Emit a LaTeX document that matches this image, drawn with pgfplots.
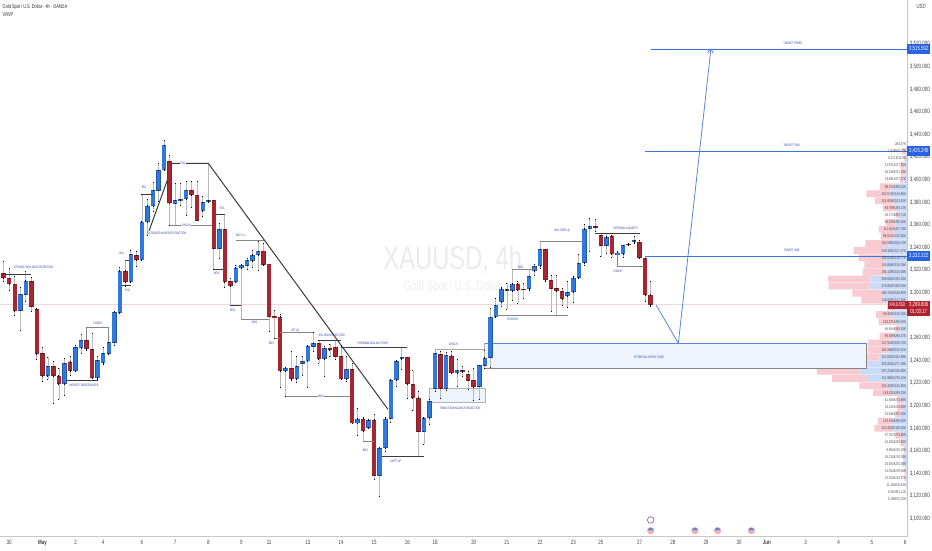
\documentclass[border=0pt]{standalone}
\usepackage{fontspec}
\setmainfont{Liberation Sans}
\usepackage{pgfplots}
\usepackage{pgfplotstable}
\pgfplotsset{compat=1.18}
\usetikzlibrary{arrows.meta}

\definecolor{upbody}{HTML}{2E78DE}
\definecolor{upedge}{HTML}{2458A8}
\definecolor{dnbody}{HTML}{A9252F}
\definecolor{dnedge}{HTML}{8A2029}
\definecolor{wick}{HTML}{B9B9B9}
\definecolor{labblue}{HTML}{2B3D9E}
\definecolor{tgtblue}{HTML}{3A72E0}
\definecolor{tagblue}{HTML}{2962E6}
\definecolor{tagred}{HTML}{B2222E}
\definecolor{pathblue}{HTML}{5A86D8}
\definecolor{zonefill}{HTML}{EEF3FC}
\definecolor{volblue}{HTML}{CBDBF7}
\definecolor{volpink}{HTML}{F7CBD1}
\definecolor{darkline}{HTML}{3A3A3A}
\definecolor{greyline}{HTML}{858585}

% x o c l h  (x = 4h bar number)
\pgfplotstableread{
x o c l h
3 3284.1 3298.5 3266.9 3304.4
4 3298.2 3310.6 3292.6 3318.6
8 3226.2 3235.1 3223.3 3242.8
11 3219.2 3237.7 3209.4 3241.9
13 3230.7 3251.6 3230.1 3253.7
14 3251.0 3258.1 3246.3 3263.4
17 3224.2 3240.4 3223.6 3243.3
18 3237.7 3246.3 3236.9 3251.6
19 3246.0 3256.0 3245.4 3264.0
20 3255.7 3282.6 3253.7 3283.2
21 3282.3 3319.5 3281.7 3322.4
23 3309.1 3333.9 3308.8 3337.2
25 3328.9 3362.8 3328.9 3387.0
26 3362.5 3377.0 3350.5 3382.6
27 3376.7 3390.8 3371.7 3397.3
28 3390.3 3408.5 3380.5 3414.5
29 3408.3 3430.7 3408.0 3435.1
31 3378.8 3382.0 3359.9 3396.7
32 3381.4 3382.9 3377.6 3396.7
33 3382.6 3390.8 3368.7 3398.2
36 3372.3 3380.2 3367.2 3384.9
37 3380.2 3381.7 3380.2 3414.5
39 3338.9 3356.0 3330.4 3361.3
42 3309.7 3322.1 3308.8 3324.5
43 3321.8 3324.5 3276.4 3325.1
44 3323.9 3328.9 3320.6 3330.4
45 3328.0 3333.6 3322.1 3337.7
46 3333.3 3336.9 3320.0 3345.7
51 3230.7 3233.6 3208.5 3233.9
53 3223.6 3235.1 3220.6 3243.4
54 3237.2 3239.5 3227.1 3243.4
55 3239.2 3252.5 3215.9 3253.7
56 3252.2 3255.1 3247.8 3264.6
58 3241.0 3250.7 3225.6 3252.8
62 3223.6 3232.1 3221.2 3243.4
64 3184.3 3188.5 3173.4 3197.6
66 3180.5 3187.3 3179.9 3187.9
68 3138.0 3162.2 3120.0 3163.1
69 3162.2 3188.5 3159.3 3189.7
70 3188.5 3222.4 3185.2 3223.3
71 3222.4 3239.5 3216.8 3240.4
72 3241.0 3242.8 3232.1 3251.6
76 3177.0 3188.8 3166.1 3189.7
77 3188.8 3204.1 3183.5 3205.5
78 3215.0 3246.3 3212.4 3249.8
80 3215.0 3244.5 3213.8 3246.9
82 3228.9 3231.5 3216.8 3241.0
86 3216.8 3235.7 3205.6 3236.0
87 3235.4 3242.5 3233.0 3249.2
88 3242.5 3278.5 3233.6 3286.1
89 3278.5 3289.1 3278.2 3295.0
90 3291.7 3303.5 3288.2 3304.7
92 3301.5 3308.0 3293.5 3320.6
95 3302.9 3314.7 3302.3 3320.6
96 3319.2 3323.6 3315.6 3325.1
97 3323.6 3338.3 3321.5 3345.7
102 3297.0 3300.3 3287.0 3309.7
103 3300.6 3313.3 3291.1 3314.7
104 3313.3 3326.2 3312.7 3334.2
105 3326.0 3356.6 3323.9 3360.5
106 3356.6 3359.0 3336.3 3365.8
109 3341.6 3349.5 3334.8 3352.5
111 3333.9 3335.4 3323.6 3336.3
112 3334.2 3341.9 3331.3 3342.2
114 3344.8 3346.3 3343.6 3349.5
}\upbars

\pgfplotstableread{
x o c l h
0 3317.4 3312.7 3309.7 3327.7
1 3313.0 3307.4 3302.3 3321.5
2 3307.7 3283.8 3280.2 3314.7
5 3310.0 3287.6 3283.2 3313.6
6 3285.2 3245.7 3241.0 3286.1
7 3246.3 3226.2 3221.2 3251.6
9 3235.1 3226.2 3202.0 3238.9
10 3226.5 3219.2 3205.6 3233.0
12 3238.9 3230.7 3227.1 3243.9
15 3258.1 3249.8 3249.2 3264.0
16 3250.1 3224.2 3224.2 3264.0
22 3319.5 3309.4 3305.9 3328.3
24 3333.0 3328.9 3323.0 3336.3
30 3416.5 3379.0 3359.9 3421.8
34 3390.8 3386.1 3375.5 3398.2
35 3386.4 3363.7 3363.7 3398.2
38 3382.0 3338.9 3320.6 3382.0
40 3356.0 3309.4 3304.7 3369.3
41 3310.0 3305.6 3288.8 3312.7
47 3336.9 3324.8 3324.5 3343.6
48 3325.4 3278.7 3265.5 3325.4
49 3279.3 3278.2 3259.6 3284.6
50 3278.7 3230.7 3215.9 3281.1
52 3233.0 3223.6 3222.7 3248.4
57 3255.1 3241.0 3237.4 3258.1
59 3251.0 3249.2 3243.4 3254.6
60 3251.6 3243.4 3241.3 3258.1
61 3243.9 3223.6 3223.3 3252.2
63 3232.1 3184.3 3184.3 3237.4
65 3188.5 3177.3 3168.1 3189.7
67 3187.6 3138.0 3135.1 3192.6
73 3243.1 3219.2 3206.5 3243.1
74 3219.2 3206.8 3195.6 3231.0
75 3207.1 3177.0 3155.4 3213.0
79 3245.7 3215.0 3206.5 3247.8
81 3244.2 3228.9 3228.6 3247.8
83 3231.5 3229.8 3225.6 3235.1
84 3227.7 3222.1 3214.7 3230.1
85 3222.4 3216.5 3205.0 3233.0
91 3302.9 3301.8 3285.2 3308.2
93 3308.0 3302.1 3290.5 3309.7
94 3303.2 3302.6 3295.0 3308.2
98 3338.3 3310.9 3310.3 3338.3
99 3310.9 3303.5 3283.2 3315.6
100 3303.8 3301.2 3279.6 3315.6
101 3301.2 3294.4 3289.1 3303.8
107 3358.7 3358.1 3354.0 3365.2
108 3351.0 3341.6 3331.8 3352.5
110 3350.1 3334.2 3331.3 3351.0
113 3343.1 3342.5 3342.2 3343.6
115 3344.8 3331.0 3330.4 3346.6
116 3330.7 3297.9 3292.0 3331.8
117 3298.2 3289.1 3288.2 3309.7
}\dnbars

% visible range volume profile, in thousands
\pgfplotstableread{
p blue pink lab
3431.6 2 2 264.57K
3425.3 5 32 1.829K/8.77K
3419.0 7 12 8.171K/11.9K
3412.7 20 30 21.971K/27.20K
3406.5 12 32 16.158K/21.23K
3400.2 25 25 23.491K/27.27K
3393.9 100 105 88.374K/88.01K
3387.6 129 174 152.574K/144.85K
3381.3 105 134 116.904K/103.42K
3375.0 87 92 84.799K/86.13K
3368.7 62 25 38.173K/85.71K
3362.4 87 72 86.226K/85.84K
3356.1 92 120 111.464K/87.78K
3349.9 100 95 86.514K/100.60K
3343.6 137 174 183.936K/106.74K
3337.3 174 224 209.146K/157.27K
3331.0 154 207 188.024K/136.77K
3324.7 169 149 146.894K/130.09K
3318.4 154 177 195.129K/108.08K
3312.1 274 316 298.656K/294.35K
3305.8 279 306 276.854K/308.05K
3299.5 179 229 198.745K/168.92K
3293.3 174 167 146.826K/147.46K
3287.0 87 62 {}
3280.7 125 105 89.484K/125.03K
3274.4 87 125 105.371K/95.02K
3268.1 50 37 46.454K/68.30K
3261.8 100 105 95.069K/96.37K
3255.5 125 169 147.516K/158.75K
3249.2 137 157 164.366K/135.42K
3242.9 204 249 212.635K/252.89K
3236.7 294 344 358.284K/277.09K
3230.4 349 324 297.224K/318.89K
3224.1 299 261 241.966K/276.43K
3217.8 149 207 204.326K/125.50K
3211.5 112 142 148.201K/89.33K
3205.2 37 37 41.556K/33.98K
3198.9 30 40 32.145K/24.50K
3192.6 50 37 51.626K/52.38K
3186.4 112 107 103.816K/98.46K
3180.1 112 132 124.261K/119.26K
3173.8 45 42 57.767K/73.80K
3167.5 20 30 24.204K/29.92K
3161.2 10 15 9.984K/15.32K
3154.9 20 10 18.224K/10.00K
3148.6 20 10 15.924K/20.38K
3142.3 12 7 13.024K/19.06K
3136.0 12 7 13.354K/10.97K
3129.7 5 2 11.184K/0.44K
3123.5 2 1 8.504K/1.11K
3117.2 1 1 5.196K/5.23K
}\volprofile

\pgfplotsset{
  wicks/.style={draw=none, no markers, forget plot,
    error bars/.cd, y dir=both, y explicit, error mark=-,
    error mark options={draw=none, fill=none, mark size=0pt, line width=0pt},
    error bar style={line width=0.8pt, draw=wick, solid}},
  bodies/.style 2 args={draw=none, no markers, forget plot,
    error bars/.cd, y dir=both, y explicit, error mark=-,
    error mark options={draw=none, fill=none, mark size=0pt, line width=0pt},
    error bar style={line width=#1, draw=#2, solid}},
  blk/.style={darkline, line width=1pt, forget plot},
  gry/.style={greyline, line width=1pt, forget plot},
  tgt/.style={tgtblue, line width=1.3pt, forget plot},
}
\tikzset{
  sq/.style={xscale=0.72, transform shape},
  lab/.style={sq, font=\fontsize{3.4}{4}\selectfont, text=labblue, inner sep=0.3pt},
  tag/.style={font=\fontsize{6}{7}\selectfont, text=white, fill=#1, anchor=west,
    minimum width=23pt, minimum height=10.5pt, inner sep=0pt},
}
% tag text is squeezed by hand so the box keeps its full width
\newcommand{\sqz}[1]{\scalebox{0.72}[1]{#1}}

\begin{document}
\begin{tikzpicture}
\path[use as bounding box] (0,0) rectangle (932pt,550pt);

% volume profile grows leftwards from the price scale
\begin{axis}[
  at={(0pt,13.3pt)}, anchor=south west, scale only axis,
  width=907pt, height=536.7pt, hide axis,
  xmin=0, xmax=6775, x dir=reverse,
  ymin=3084.07, ymax=3559.05,
  xbar stacked, bar width=5.9,
]
  \addplot[fill=volblue, draw=none] table[x=blue, y=p] \volprofile;
  \addplot[fill=volpink, draw=none] table[x=pink, y=p] \volprofile;
\end{axis}

\begin{axis}[
  at={(0pt,13.3pt)}, anchor=south west, scale only axis,
  width=907pt, height=536.7pt, clip=false,
  xmin=-0.669, xmax=163.35,
  ymin=3084.07, ymax=3559.05,
  axis x line*=bottom, axis y line*=right,
  axis line style={draw=black!22, line width=0.9pt},
  major tick length=0pt,
  ytick={3100,3120,...,3260,3300,3320,...,3520},
  xtick={1,7,13,18,25,31,37,43,48,55,61,67,73,78,85,91,97,103,108,115,121,127,133,138,145,151,157,163},
  xticklabels={30,\textbf{May},2,4,6,7,8,9,11,13,14,15,16,18,20,21,22,23,25,27,28,29,30,\textbf{Jun},3,4,5,6},
  tick label style={sq, font=\fontsize{6.2}{7}\selectfont, text=black!75},
  yticklabel style={xshift=0.5pt},
  /pgf/number format/.cd, fixed, fixed zerofill, precision=3, 1000 sep={,}, assume math mode=true,
]
  % watermark and header
  \node[sq, font=\fontsize{33}{35}\selectfont, text=black!8] at (axis cs:81.2,3329) {XAUUSD, 4h};
  \node[sq, font=\fontsize{13.5}{15}\selectfont, text=black!7] at (axis cs:81.2,3305) {Gold Spot / U.S. Dollar};
  \node[sq, font=\fontsize{5.4}{6}\selectfont, anchor=west, inner sep=0pt, text=black!85] at (axis cs:-0.2,3552.9) {Gold Spot / U.S. Dollar · 4h · OANDA};
  \node[sq, font=\fontsize{5.4}{6}\selectfont, anchor=west, inner sep=0pt, text=black!85] at (axis cs:-0.2,3545.8) {VRVP};
  \node[sq, font=\fontsize{6}{7}\selectfont, text=black!75] at (axis cs:165.9,3553.7) {USD};

  % last price line
  \addplot[color=tagred!18, line width=0.6pt, forget plot] coordinates {(-0.669,3289.8) (163.35,3289.8)};

  % zones
  \addplot[fill=zonefill, draw=none, forget plot] coordinates {(87,3255.2) (156,3255.2) (156,3233.1) (87,3233.1)} --cycle;
  \addplot[fill=zonefill, draw=none, forget plot] coordinates {(77,3215.4) (87.1,3215.4) (87.1,3202.7) (77,3202.7)} --cycle;
  \addplot[gry, black!30] coordinates {(77,3202.7) (77,3215.4) (87.1,3215.4) (87.1,3202.7) (77,3202.7)};
  \addplot[pathblue, line width=1pt, forget plot] coordinates {(87,3255.2) (156,3255.2)};
  \addplot[gry] coordinates {(87,3233.1) (156,3233.1) (156,3255.2)};
  \addplot[gry, black!30] coordinates {(87,3255.2) (87,3233.1)};

  % wicks and bodies
  \addplot[wicks] table[x=x, y expr={(\thisrow{h}+\thisrow{l})/2}, y error expr={(\thisrow{h}-\thisrow{l})/2}] \upbars;
  \addplot[wicks] table[x=x, y expr={(\thisrow{h}+\thisrow{l})/2}, y error expr={(\thisrow{h}-\thisrow{l})/2}] \dnbars;
  \addplot[bodies={4.5pt}{upedge}] table[x=x, y expr={(\thisrow{o}+\thisrow{c})/2}, y error expr={abs(\thisrow{c}-\thisrow{o})/2}] \upbars;
  \addplot[bodies={3.7pt}{upbody}] table[x=x, y expr={(\thisrow{o}+\thisrow{c})/2}, y error expr={max(abs(\thisrow{c}-\thisrow{o})/2-0.4,0)}] \upbars;
  \addplot[bodies={4.5pt}{dnedge}] table[x=x, y expr={(\thisrow{o}+\thisrow{c})/2}, y error expr={abs(\thisrow{c}-\thisrow{o})/2}] \dnbars;
  \addplot[bodies={3.7pt}{dnbody}] table[x=x, y expr={(\thisrow{o}+\thisrow{c})/2}, y error expr={max(abs(\thisrow{c}-\thisrow{o})/2-0.4,0)}] \dnbars;

  % structure lines
  \addplot[blk] coordinates {(0,3316.2) (5,3316.2)};
  \addplot[blk] coordinates {(11.4,3222.1) (17,3222.1)};
  \addplot[gry] coordinates {(15,3258) (15,3269.3) (19,3269.3) (19,3256)};
  \addplot[blk] coordinates {(21.9,3328.3) (22.7,3328.3)};
  \addplot[blk] coordinates {(21.4,3306.2) (23,3306.2)};
  \addplot[blk] coordinates {(25,3387) (27,3387)};
  \addplot[blk] coordinates {(26.3,3354.9) (29.6,3399.7)};
  \addplot[blk] coordinates {(30.3,3414.5) (37,3414.5) (69.5,3196.7)};
  \addplot[gry] coordinates {(30,3359.9) (37.7,3359.9)};
  \addplot[blk] coordinates {(38.4,3369.3) (40,3369.3)};
  \addplot[blk] coordinates {(38,3320.6) (39.6,3320.6)};
  \addplot[blk] coordinates {(41,3288.8) (43,3288.8)};
  \addplot[gry] coordinates {(42,3346.6) (47,3346.6)};
  \addplot[gry] coordinates {(43,3276.4) (48,3276.4)};
  \addplot[gry] coordinates {(49,3259.6) (50,3259.6)};
  \addplot[gry] coordinates {(50,3264.6) (56,3264.6)};
  \addplot[blk] coordinates {(57,3258.1) (61,3258.1)};
  \addplot[blk] coordinates {(61,3251.3) (73,3251.3)};
  \addplot[gry] coordinates {(51,3208.5) (62.6,3208.5)};
  \addplot[gry] coordinates {(65,3168.1) (67,3168.1)};
  \addplot[blk] coordinates {(68.4,3155.4) (76,3155.4)};
  \addplot[gry, black!35] coordinates {(78,3250.1) (87,3250.1)};
  \addplot[gry] coordinates {(89,3279.6) (102,3279.6)};
  \addplot[gry] coordinates {(92,3320.6) (96,3320.6)};
  \addplot[gry] coordinates {(97,3345.4) (105,3345.4)};
  \addplot[blk] coordinates {(107,3352.5) (115,3352.5)};
  \addplot[gry] coordinates {(111,3335) (111,3323.6) (115.8,3323.6)};

  % targets
  \addplot[tgt] coordinates {(117,3515.5) (163.35,3515.5)};
  \addplot[tgt] coordinates {(116,3425.2) (163.35,3425.2)};
  \addplot[tgt] coordinates {(116,3332.3) (163.35,3332.3)};
  \addplot[pathblue, line width=0.8pt, forget plot, -{Straight Barb[length=4pt,width=6pt]}]
    coordinates {(118,3289) (122,3255.2) (127.9,3516.3)};

  % labels
  \node[lab] at (axis cs:5.4,3322.1) {STRONG HIGH WICK REJECTION};
  \node[lab] at (axis cs:14.5,3217.7) {HIGHEST ORDER BLOCK};
  \node[lab] at (axis cs:17,3272.6) {CHOCH};
  \node[lab] at (axis cs:21.4,3335) {BSL};
  \node[lab] at (axis cs:22.4,3302) {FVG};
  \node[lab] at (axis cs:25.4,3393.2) {BSL};
  \node[lab] at (axis cs:29.5,3352.5) {EXTENDED BUYER EXTRACTION};
  \node[lab, fill=white] at (axis cs:32.4,3414.5) {FVG};
  \node[lab, fill=white] at (axis cs:33,3359.9) {CHOCH};
  \node[lab] at (axis cs:39.5,3374.3) {FVG};
  \node[lab] at (axis cs:38.5,3317) {BOS};
  \node[lab] at (axis cs:41.4,3284) {BOS};
  \node[lab] at (axis cs:42.9,3350.4) {DEV C.L.};
  \node[lab] at (axis cs:45.4,3273.4) {BOS};
  \node[lab] at (axis cs:48.4,3255.4) {BOS};
  \node[lab] at (axis cs:52.7,3266.7) {INT LQ};
  \node[lab] at (axis cs:59.3,3261.9) {SSL HIGH REJECTION};
  \node[lab] at (axis cs:66.8,3254.9) {PREMIUM SELLING POINT};
  \node[lab, fill=white] at (axis cs:57.4,3208.5) {BOS};
  \node[lab] at (axis cs:65.4,3160.8) {BOS};
  \node[lab] at (axis cs:70.9,3151) {SHIFT UP};
  \node[lab] at (axis cs:81.3,3254) {CHOCH};
  \node[lab] at (axis cs:82.5,3197.3) {TRANSITIONING WICK REJECTION};
  \node[lab] at (axis cs:92,3276.4) {FISCHER};
  \node[lab] at (axis cs:93.5,3322.7) {BOS};
  \node[lab] at (axis cs:101,3354.6) {BUY SIDE LQ};
  \node[lab] at (axis cs:112.5,3356.3) {INTERNAL LIQUIDITY};
  \node[lab] at (axis cs:111,3318.9) {CHOCH};
  \node[lab] at (axis cs:116.7,3243) {POTENTIAL ENTRY ZONE};
  \node[lab] at (axis cs:142.7,3521) {TARGET THREE};
  \node[lab] at (axis cs:142.5,3430.2) {TARGET TWO};
  \node[lab] at (axis cs:142.5,3337.2) {TARGET ONE};

  % profile row labels
  \addplot[draw=none, no markers, forget plot, point meta=explicit symbolic,
    nodes near coords, every node near coord/.style={anchor=east, inner sep=0pt, sq,
      font=\fontsize{4.1}{4.5}\selectfont, text=black!70}]
    table[x expr=163.2, y=p, meta=lab] \volprofile;

  % economic events
  \addplot[only marks, forget plot, mark=*, mark size=3.3pt, mark options={fill=white, draw=violet!80, line width=0.5pt}]
    coordinates {(117,3098.9)};
  \addplot[only marks, forget plot, mark=halfcircle*, mark size=3.3pt, mark color=volpink!85!red,
      mark options={fill=pathblue, draw=red!35, line width=0.4pt}]
    coordinates {(117,3089.4) (125,3089.4) (129.1,3089.4) (135.2,3089.4)};
  \node[font=\fontsize{3}{3}\selectfont, text=violet, inner sep=0pt] at (axis cs:117,3098.9) {F};

  % price tags
  \node[tag=tagblue] at (axis cs:163.35,3515.5) {\sqz{3,515.502}};
  \node[tag=tagblue] at (axis cs:163.35,3425.2) {\sqz{3,425.245}};
  \node[tag=tagblue] at (axis cs:163.35,3332.3) {\sqz{3,332.322}};
  \node[tag=tagred, minimum height=15pt, align=center] at (axis cs:163.35,3286.3) {\sqz{3,289.806}\\\sqz{01:03:17}};
  \node[fill=tagred, text=white, anchor=east, font=\fontsize{5.5}{6}\selectfont, minimum width=19pt, minimum height=8.3pt, inner sep=0pt] at (axis cs:163.35,3289.3) {\sqz{XAUUSD}};
\end{axis}
\end{tikzpicture}
\end{document}
